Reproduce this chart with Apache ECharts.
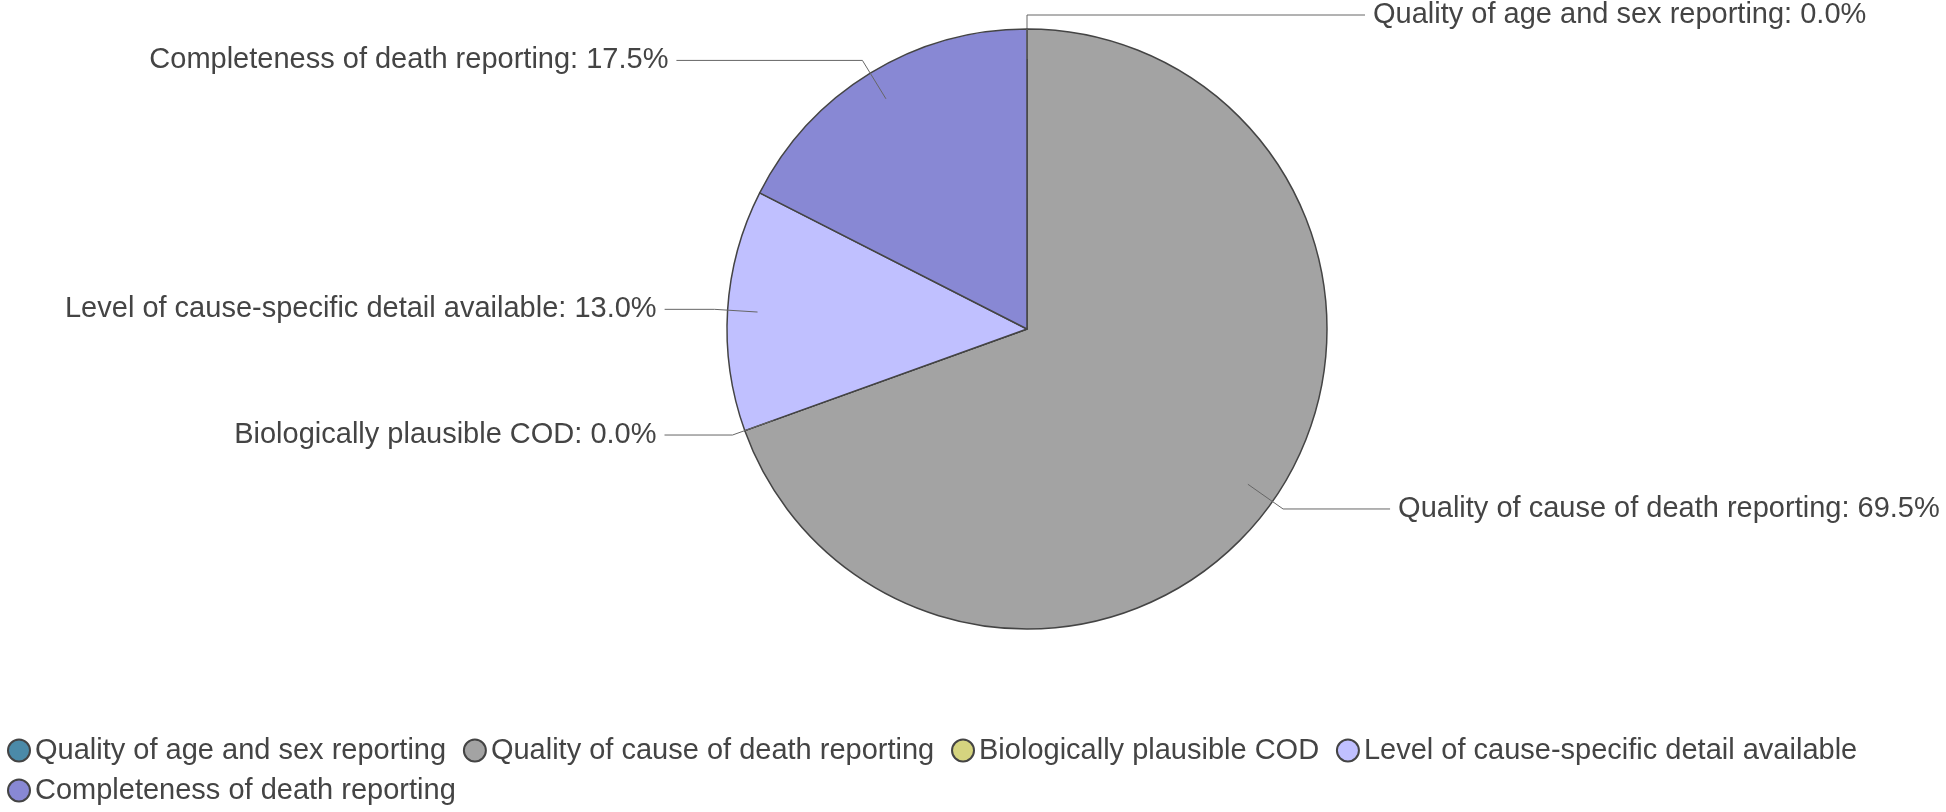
<!DOCTYPE html>
<html>
<head>
<meta charset="utf-8">
<script src="https://cdn.jsdelivr.net/npm/echarts@6/dist/echarts.min.js"></script>
<style>
  html, body { margin: 0; padding: 0; background: #fff; }
  #main { width: 1946px; height: 812px; }
</style>
</head>
<body>
<div id="main"></div>
<script>
// categories and values (percent of total), clockwise from the top
const categories = [
    'Quality of age and sex reporting',
    'Quality of cause of death reporting',
    'Biologically plausible COD',
    'Level of cause-specific detail available',
    'Completeness of death reporting'
];
const values = [0.0, 69.5, 0.0, 13.0, 17.5];
const colors = ['#4b8aa8', '#a3a3a3', '#d5d47f', '#c0c0ff', '#8888d4'];

// label line lengths per slice, measured from the pie edge
const lineLength = [14, 13, 13, 13, 15];
const lineLength2 = [338, 107, 68, 50, 186];

const radius = 300;
// callouts start this far inside the slice
const inset = 30;
const fontFamily = '"Liberation Sans", Arial, sans-serif';

var chartDom = document.getElementById('main');
var myChart = echarts.init(chartDom);
var option;

var pieData = categories.map(function (name, i) {
    return { name: name, value: values[i] };
});

option = {
    animation: false,
    color: colors,
    textStyle: { fontFamily: fontFamily },
    legend: {
        left: 2,
        top: 731,
        width: 1900,
        icon: 'circle',
        itemWidth: 22,
        itemHeight: 22,
        itemGap: 11,
        formatter: function (name) { return name + '\u2009'; },
        textStyle: {
            fontSize: 29,
            color: '#444',
            fontFamily: fontFamily
        },
        data: categories
    },
    series: [
        {
            // the slices
            type: 'pie',
            z: 2,
            center: [1027, 329],
            radius: radius,
            // a hair off 90 so the zero slice at the top puts its label on the right
            startAngle: 89.999,
            clockwise: true,
            itemStyle: {
                borderColor: '#444',
                borderWidth: 1.5
            },
            label: { show: false },
            labelLine: { show: false },
            emphasis: { disabled: true },
            data: pieData
        },
        {
            // invisible copy, a bit smaller, that carries the callouts
            type: 'pie',
            z: 4,
            center: [1027, 329],
            radius: radius - inset,
            startAngle: 89.999,
            clockwise: true,
            avoidLabelOverlap: false,
            silent: true,
            legendHoverLink: false,
            itemStyle: {
                color: 'rgba(0,0,0,0)',
                borderWidth: 0
            },
            label: {
                show: true,
                fontSize: 29,
                color: '#444',
                fontFamily: fontFamily,
                distanceToLabelLine: 8,
                formatter: function (p) {
                    return p.name + ': ' + p.value.toFixed(1) + '%';
                }
            },
            labelLine: {
                show: true,
                showAbove: true,
                lineStyle: { color: '#666', width: 1 }
            },
            emphasis: { disabled: true },
            data: categories.map(function (name, i) {
                return {
                    name: name,
                    value: values[i],
                    labelLine: { length: inset + lineLength[i], length2: lineLength2[i] }
                };
            })
        }
    ]
};

option && myChart.setOption(option);
</script>
</body>
</html>
